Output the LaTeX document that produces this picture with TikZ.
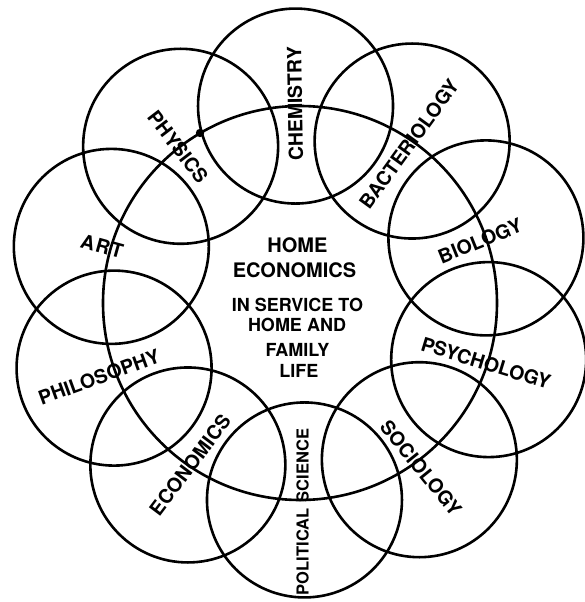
\documentclass[tikz,border=0pt]{standalone}
\usepackage{fontspec}
\newfontfamily\lblfont{TeX Gyre Heros}[UprightFont=*-Bold]
\begin{document}
\begin{tikzpicture}[x=1pt,y=1pt,
  ring/.style={circle,draw=black,line width=2.6pt,inner sep=0pt,minimum size=195pt},
  bigring/.style={circle,draw=black,line width=2.6pt,inner sep=0pt,minimum size=394pt},
  lab/.style={inner sep=0pt,font=\lblfont\fontsize{19.5}{19.5}\selectfont},
  ctr/.style={inner sep=0pt,anchor=base,font=\lblfont\fontsize{20}{20}\selectfont},
  ctrs/.style={inner sep=0pt,anchor=base,font=\lblfont\fontsize{18}{18}\selectfont}]
\useasboundingbox (-300,-299) rectangle (285,303);
\fill[white] (-300,-299) rectangle (285,303);
\coordinate (O) at (0,0);
\node[bigring] (big) at (O) {};
\foreach \k/\nm in {0/biology,1/bacteriology,2/chemistry,3/physics,4/art,5/philosophy,6/economics,7/polsci,8/sociology,9/psychology}{
  \node[ring] (c\nm) at ({19.3+36*\k}:197) {};
}
\fill (-100,170) circle (4.2pt);
\node[lab,rotate=91] (tchem) at (-5,199) {CHEMISTRY};
\node[lab,rotate=-52.5] (tphys) at (-122,156) {PHYSICS};
\node[lab,rotate=-15.5] (tart) at (-198,57) {A\kern1.5pt R\kern1.5pt T};
\node[lab,rotate=20] (tphil) at (-201,-74) {PHILOSOPHY};
\node[lab,rotate=53] (tecon) at (-110,-162) {ECONOMICS};
\node[lab,rotate=90,font=\lblfont\fontsize{16.5}{16.5}\selectfont] (tpol) at (2.5,-209) {POLITICAL\hspace{6pt}SCIENCE};
\node[lab,rotate=-51] (tsoc) at (121,-165) {SOCIOLOGY};
\node[lab,rotate=-17] (tpsy) at (186,-60) {PSYCHOLOGY};
\node[lab,rotate=22] (tbio) at (180,62) {BIOLOGY};
\node[lab,rotate=54] (tbac) at (109,159) {BACTERIOLOGY};
\node[ctr] (h1) at (-2.5,50) {HOME};
\node[ctr] (h2) at (-5.5,25) {ECONOMICS};
\node[ctrs] (s1) at (-2.5,-9) {IN SERVICE TO};
\node[ctrs] (s2) at (-3,-29) {HOME AND};
\node[ctrs] (s3) at (-2.5,-53.5) {FAMILY};
\node[ctrs] (s4) at (-1,-74) {LIFE};
\end{tikzpicture}
\end{document}
